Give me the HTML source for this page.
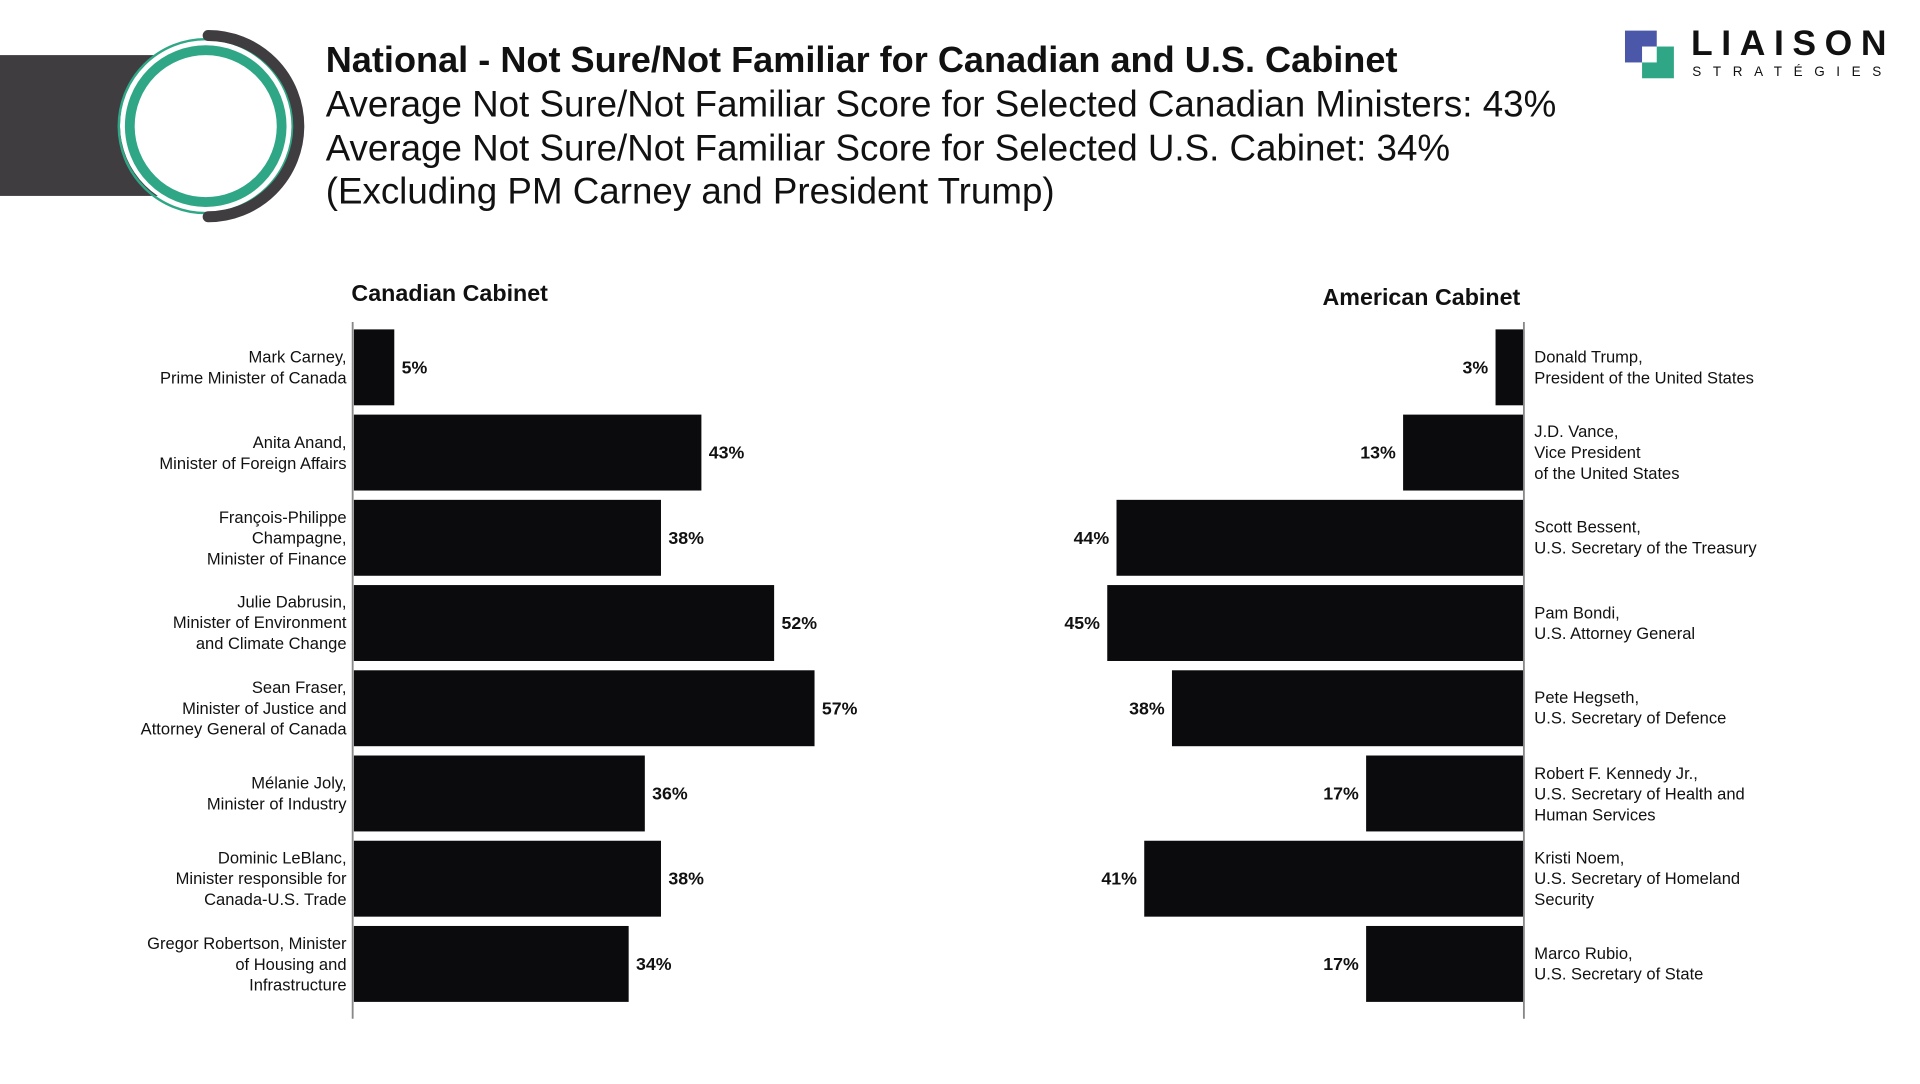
<!DOCTYPE html>
<html><head><meta charset="utf-8"><style>
html,body{margin:0;padding:0;background:#fff;overflow:hidden}
#stage{position:absolute;left:0;top:0;width:1570px;height:885px;transform-origin:0 0;transform:scale(1.2245,1.2245);font-family:"Liberation Sans",sans-serif;color:#111}
.t{position:absolute;white-space:nowrap}
.lbl{position:absolute;font-size:13.5px;line-height:17px;white-space:nowrap}
</style></head><body>
<div id="stage">
<svg class="t" style="left:0;top:0" width="260" height="200">
<rect x="0" y="45" width="130" height="115" fill="#403d41"/>
<circle cx="168" cy="102" r="70" fill="#fff"/>
<circle cx="168" cy="103" r="71" fill="none" stroke="#2fa786" stroke-width="2"/>
<circle cx="168" cy="103" r="62" fill="none" stroke="#2fa786" stroke-width="8"/>
<path d="M170 29 A74 74 0 0 1 170 177" fill="none" stroke="#403d41" stroke-width="9" stroke-linecap="round"/>
</svg>
<div class="t" style="left:266px;top:33px;font-size:29.5px;font-weight:bold">National - Not Sure/Not Familiar for Canadian and U.S. Cabinet</div>
<div class="t" style="left:266px;top:68px;font-size:30px;line-height:35.5px">Average Not Sure/Not Familiar Score for Selected Canadian Ministers: 43%<br>Average Not Sure/Not Familiar Score for Selected U.S. Cabinet: 34%<br>(Excluding PM Carney and President Trump)</div>
<div class="t" style="left:1327px;top:22px">
<svg width="42" height="42" style="position:absolute;left:0;top:0"><rect x="0" y="3" width="26" height="26" fill="#4b57a8"/><rect x="14" y="16" width="26" height="26" fill="#2fa786"/><rect x="14" y="16" width="12" height="13" fill="#fff"/></svg>
<div class="t" style="left:54px;top:-2px;font-size:29px;font-weight:bold;letter-spacing:7px">LIAISON</div>
<div class="t" style="left:55px;top:31px;font-size:11px;letter-spacing:9.5px">STRATÉGIES</div>
</div>
<div class="t" style="left:287px;top:230px;font-size:19px;font-weight:bold">Canadian Cabinet</div>
<div class="t" style="left:1080px;top:233px;font-size:19px;font-weight:bold">American Cabinet</div>
<svg id="chart" class="t" style="left:0;top:0" width="1570" height="885"></svg>
<div id="labels"></div>
</div>
<script>
const caNames=["Mark Carney,<br>Prime Minister of Canada","Anita Anand,<br>Minister of Foreign Affairs","François-Philippe<br>Champagne,<br>Minister of Finance","Julie Dabrusin,<br>Minister of Environment<br>and Climate Change","Sean Fraser,<br>Minister of Justice and<br>Attorney General of Canada","Mélanie Joly,<br>Minister of Industry","Dominic LeBlanc,<br>Minister responsible for<br>Canada-U.S. Trade","Gregor Robertson, Minister<br>of Housing and<br>Infrastructure"];
const caValues=[5,43,38,52,57,36,38,34];
const usNames=["Donald Trump,<br>President of the United States","J.D. Vance,<br>Vice President<br>of the United States","Scott Bessent,<br>U.S. Secretary of the Treasury","Pam Bondi,<br>U.S. Attorney General","Pete Hegseth,<br>U.S. Secretary of Defence","Robert F. Kennedy Jr.,<br>U.S. Secretary of Health and<br>Human Services","Kristi Noem,<br>U.S. Secretary of Homeland<br>Security","Marco Rubio,<br>U.S. Secretary of State"];
const usValues=[3,13,44,45,38,17,41,17];
const NS="http://www.w3.org/2000/svg";
const svg=document.getElementById('chart'),L=document.getElementById('labels');
const yC=i=>300+i*69.6, barH=62;
const xCa=v=>289+v*6.6, xUs=v=>1244-v*7.55;
function el(tag,a){const e=document.createElementNS(NS,tag);for(const k in a)e.setAttribute(k,a[k]);svg.appendChild(e);return e;}
function txt(x,y,s,anchor){const t=el('text',{x:x,y:y,'font-size':14.5,'font-weight':'bold','text-anchor':anchor,'dominant-baseline':'central','font-family':'Liberation Sans, sans-serif',fill:'#111'});t.textContent=s;return t;}
caValues.forEach((v,i)=>{
 const r=el('rect',{x:289,y:yC(i)-barH/2,width:xCa(v)-289,height:barH,fill:'#0b0a0d'});
 
 
 const t=txt(xCa(v)+6,yC(i),v+'%','start');
 
 
 const d=document.createElement('div');d.className='lbl';d.innerHTML=caNames[i];
 d.style.right=(1570-283)+'px';d.style.textAlign='right';
 const n=caNames[i].split('<br>').length;d.style.top=(yC(i)-n*8.5)+'px';
 
 
 L.appendChild(d);
});
usValues.forEach((v,i)=>{
 const r=el('rect',{x:xUs(v),y:yC(i)-barH/2,width:1244-xUs(v),height:barH,fill:'#0b0a0d'});
 
 
 const t=txt(xUs(v)-6,yC(i),v+'%','end');
 
 
 const d=document.createElement('div');d.className='lbl';d.innerHTML=usNames[i];
 d.style.left='1253px';
 const n=usNames[i].split('<br>').length;d.style.top=(yC(i)-n*8.5)+'px';
 
 
 L.appendChild(d);
});
const a1=el('line',{x1:288,y1:263,x2:288,y2:832,stroke:'#888','stroke-width':1.5});


const a2=el('line',{x1:1244.5,y1:263,x2:1244.5,y2:832,stroke:'#888','stroke-width':1.5});


</script>
</body></html>
